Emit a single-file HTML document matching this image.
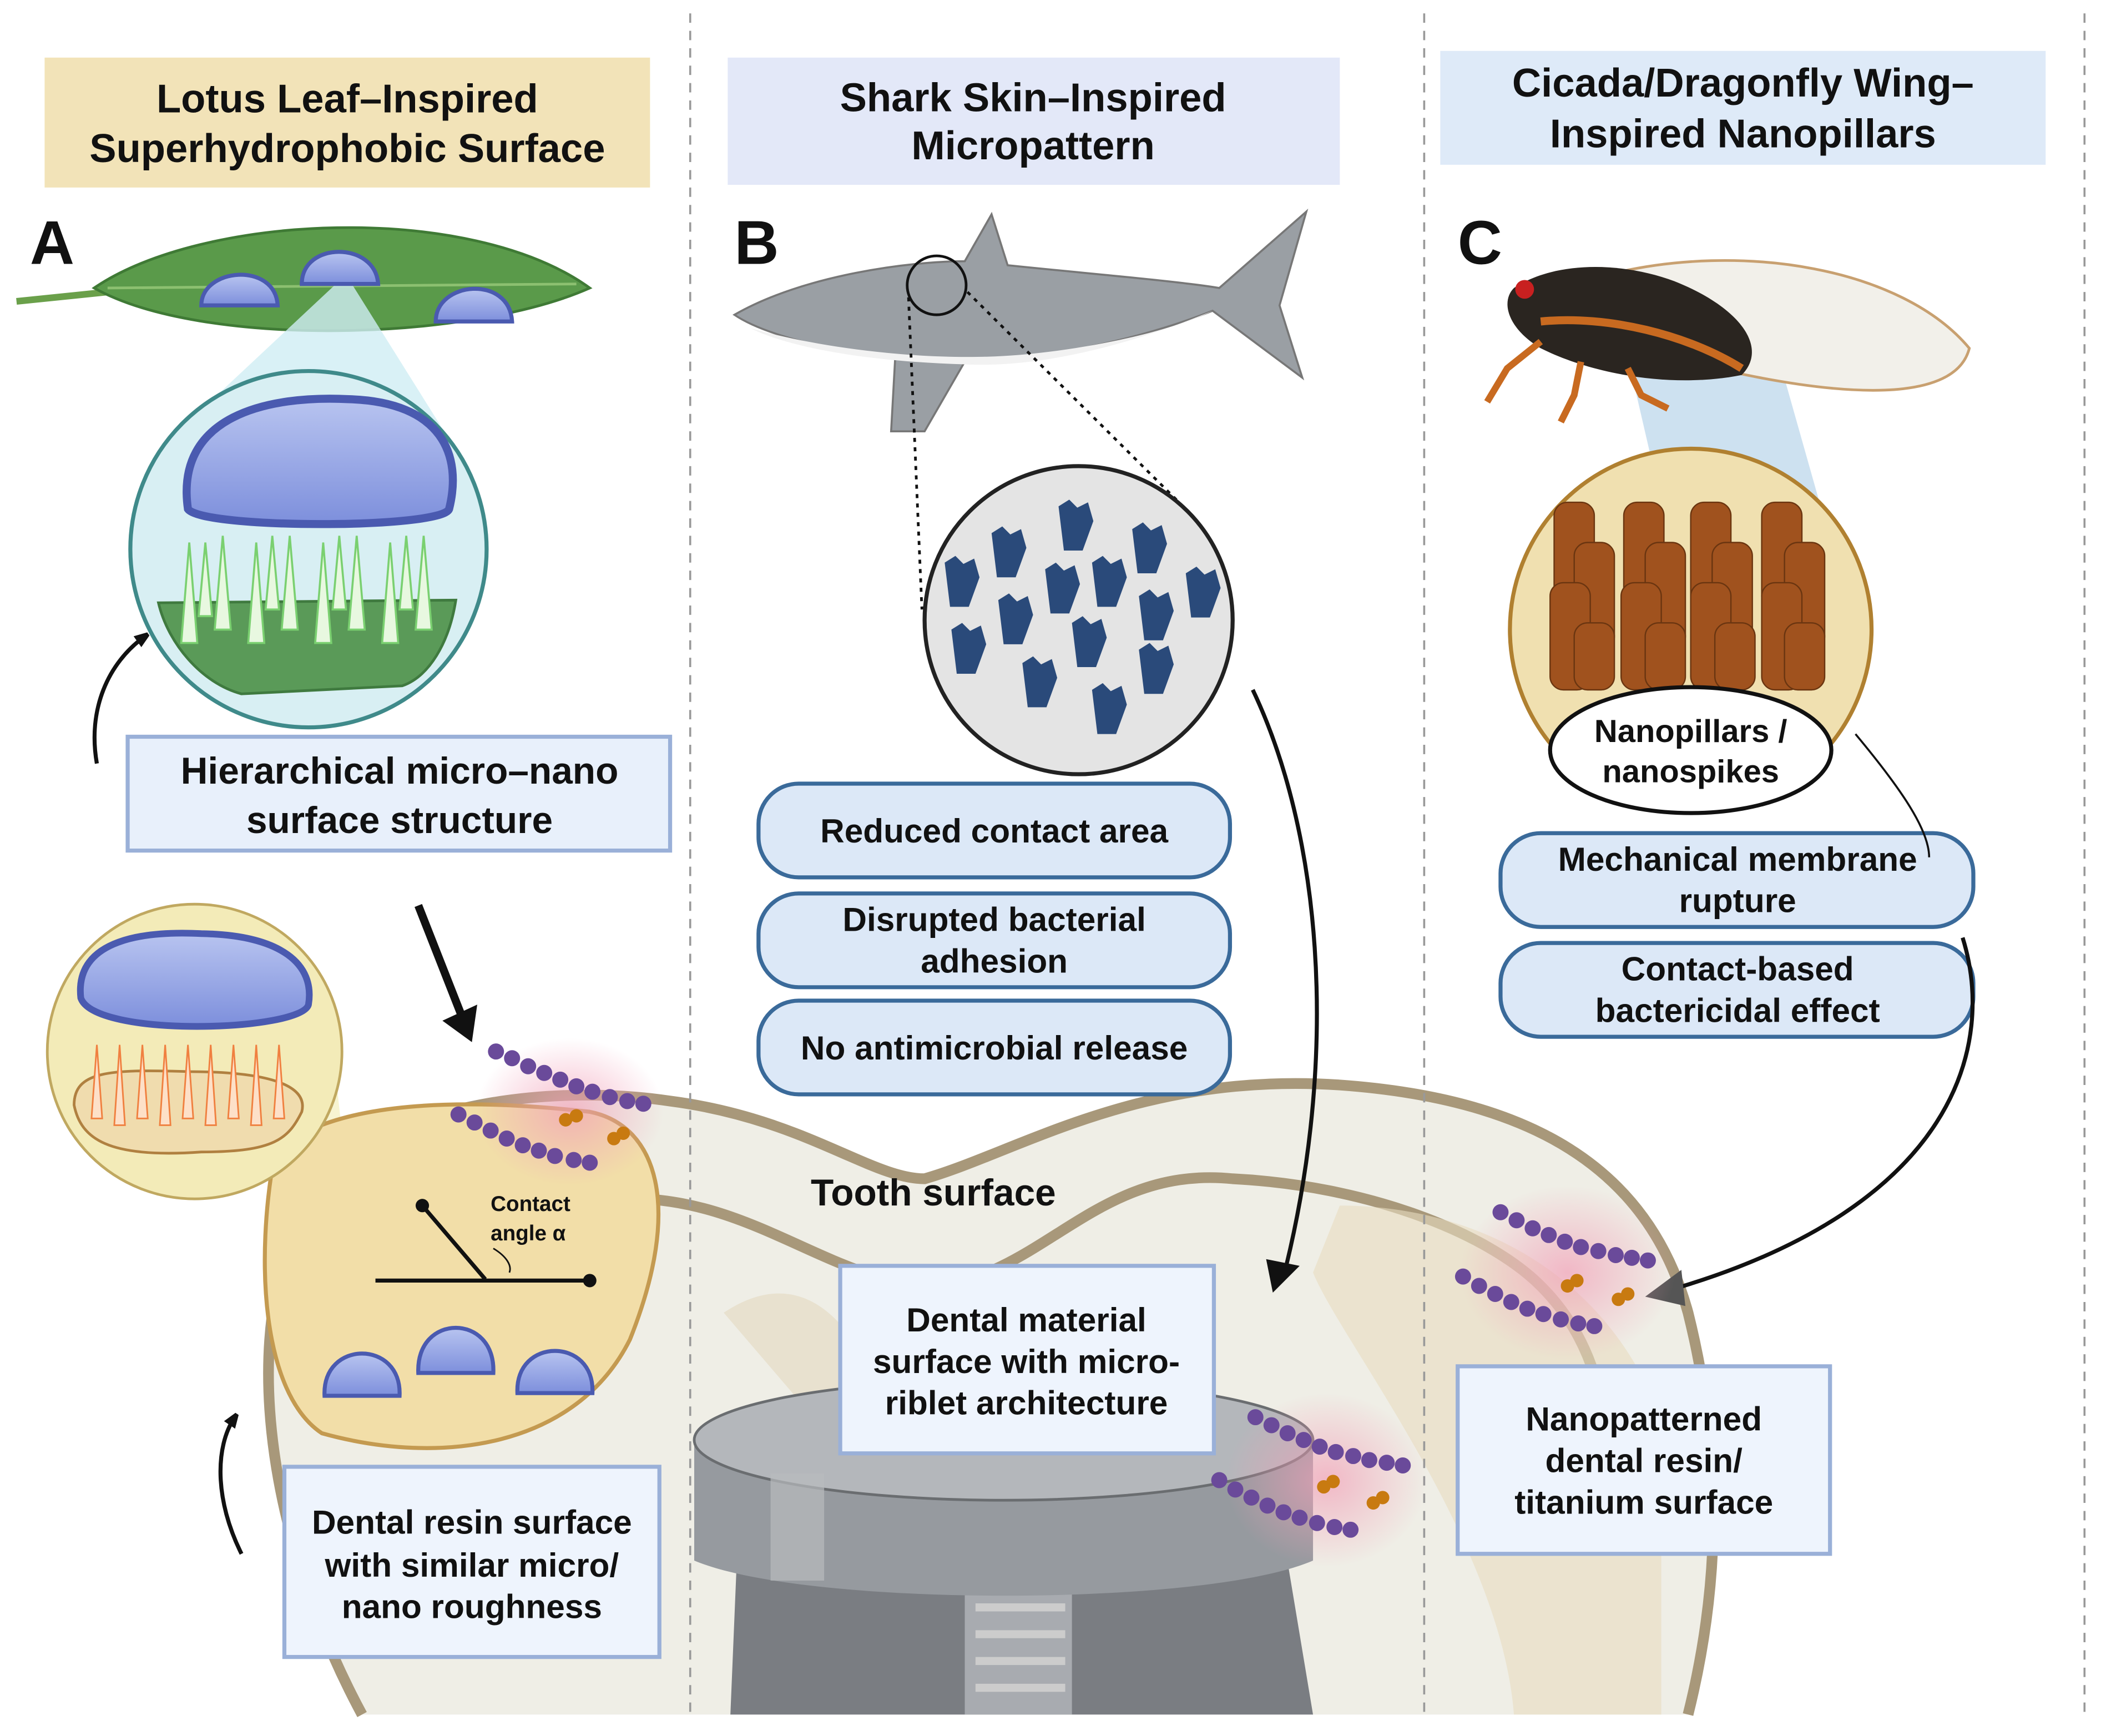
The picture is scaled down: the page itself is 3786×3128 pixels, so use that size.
<!DOCTYPE html>
<html><head><meta charset="utf-8"><style>
html,body{margin:0;padding:0;background:#fff;width:3786px;height:3128px;overflow:hidden}
svg{display:block}
text{font-family:"Liberation Sans",sans-serif;font-weight:bold;fill:#111}
</style></head><body>
<svg width="3786" height="3128" viewBox="0 0 1568 1296" xmlns="http://www.w3.org/2000/svg">
<defs>
<radialGradient id="pink"><stop offset="0" stop-color="#f2a0b8" stop-opacity=".7"/><stop offset="1" stop-color="#f2a0b8" stop-opacity="0"/></radialGradient>
<linearGradient id="drop" x1="0" y1="0" x2="0" y2="1"><stop offset="0" stop-color="#b8c4f0"/><stop offset="1" stop-color="#7d8fdc"/></linearGradient>
<marker id="ah" markerWidth="10" markerHeight="10" refX="7" refY="5" orient="auto" markerUnits="userSpaceOnUse"><path d="M0,0 L14,5 L0,10 Z" fill="#111"/></marker>
</defs>
<rect width="1568" height="1296" fill="#fff"/>
<!-- tooth -->
<path d="M270,1280 C200,1150 170,980 240,880 C300,820 420,810 500,822 C600,835 650,880 690,880 C760,860 850,800 1000,810 C1140,820 1230,870 1260,980 C1290,1100 1280,1200 1260,1280 Z" fill="#efeee6"/>
<path d="M270,1280 C200,1150 170,980 240,880 C300,820 420,810 500,822 C600,835 650,880 690,880 C760,860 850,800 1000,810 C1140,820 1230,870 1260,980 C1290,1100 1280,1200 1260,1280" fill="none" stroke="#a8987a" stroke-width="8"/>
<path d="M460,895 C560,890 620,960 700,960 C780,950 820,870 920,880 C1020,885 1110,920 1150,960 C1190,1000 1200,1050 1200,1100" fill="none" stroke="#a8987a" stroke-width="8"/>
<path d="M540,980 C600,940 640,990 660,1050 L600,1050 Z" fill="#e6dcc4" opacity=".7"/>
<path d="M1000,900 C1100,900 1200,950 1240,1060 L1240,1280 L1130,1280 C1120,1150 1000,1000 980,950 Z" fill="#e8dcc0" opacity=".6"/>
<!-- dashed lines -->
<g stroke="#999" stroke-width="1.5" stroke-dasharray="7,6"><line x1="515" y1="10" x2="515" y2="1280"/><line x1="1063" y1="10" x2="1063" y2="1280"/><line x1="1556" y1="10" x2="1556" y2="1280"/></g>
<!-- headers -->
<rect x="33" y="43" width="452" height="97" fill="#f2e3b8"/>
<text x="259" y="84" font-size="30" text-anchor="middle">Lotus Leaf–Inspired</text>
<text x="259" y="121" font-size="30" text-anchor="middle">Superhydrophobic Surface</text>
<rect x="543" y="43" width="457" height="95" fill="#e3e8f8"/>
<text x="771" y="83" font-size="30" text-anchor="middle">Shark Skin–Inspired</text>
<text x="771" y="119" font-size="30" text-anchor="middle">Micropattern</text>
<rect x="1075" y="38" width="452" height="85" fill="#deeaf8"/>
<text x="1301" y="72" font-size="30" text-anchor="middle">Cicada/Dragonfly Wing–</text>
<text x="1301" y="110" font-size="30" text-anchor="middle">Inspired Nanopillars</text>
<text x="22" y="197" font-size="46">A</text>
<text x="548" y="197" font-size="46">B</text>
<text x="1088" y="197" font-size="46">C</text>
<!-- leaf -->
<path d="M12,225 L80,218" stroke="#6aa04a" stroke-width="5"/>
<path d="M70,215 C150,160 350,150 440,215 C350,255 150,260 70,215 Z" fill="#5a9a4a" stroke="#3f7a35" stroke-width="2"/>
<path d="M80,215 L430,212" stroke="#8cc070" stroke-width="2"/>
<path d="M258,205 L135,320 L330,320 Z" fill="#cfeef4" opacity=".8"/>
<g fill="url(#drop)" stroke="#4a5ab0" stroke-width="3">
<path d="M150,228 C150,200 205,195 207,228 Z"/><path d="M225,212 C225,180 280,180 282,212 Z"/><path d="M325,240 C325,210 380,205 382,240 Z"/></g>
<circle cx="230" cy="410" r="133" fill="#d8eff3" stroke="#3f8a8a" stroke-width="3"/>
<path d="M140,380 C130,310 200,295 260,298 C330,300 345,340 335,380 C330,395 150,395 140,380 Z" fill="url(#drop)" stroke="#4a5ab0" stroke-width="6"/>
<path d="M118,450 L340,448 C335,480 320,505 300,512 L180,518 C150,510 125,480 118,450 Z" fill="#5a9a58" stroke="#3f7a3f" stroke-width="2"/>
<g fill="#e8f8e0" stroke="#7ad070" stroke-width="1.5">
<path d="M135,480 l6,-75 l6,75z"/><path d="M160,470 l6,-70 l6,70z"/><path d="M185,480 l6,-75 l6,75z"/><path d="M210,470 l6,-70 l6,70z"/><path d="M235,480 l6,-75 l6,75z"/><path d="M260,470 l6,-70 l6,70z"/><path d="M285,480 l6,-75 l6,75z"/><path d="M310,470 l6,-70 l6,70z"/><path d="M148,460 l5,-55 l5,55z"/><path d="M198,455 l5,-55 l5,55z"/><path d="M248,455 l5,-55 l5,55z"/><path d="M298,455 l5,-55 l5,55z"/></g>
<path d="M72,570 C65,530 80,495 108,475" fill="none" stroke="#111" stroke-width="3" marker-end="url(#ah)"/>
<rect x="95" y="550" width="405" height="85" fill="#e8f0fb" stroke="#9ab0d8" stroke-width="3"/>
<text x="298" y="585" font-size="28" text-anchor="middle">Hierarchical micro–nano</text>
<text x="298" y="622" font-size="28" text-anchor="middle">surface structure</text>
<path d="M312,676 L345,760" stroke="#111" stroke-width="6"/><path d="M330,762 L352,778 L356,750 Z" fill="#111"/>
<!-- left zoom -->
<path d="M200,860 L270,980 L250,800 Z" fill="#f6f3cc" opacity=".9"/>
<path d="M205,860 C190,940 195,1040 240,1070 C330,1095 430,1080 470,1000 C510,900 490,840 440,830 C350,820 250,820 205,860 Z" fill="#f2dea8" stroke="#c49a50" stroke-width="3"/>
<circle cx="145" cy="785" r="110" fill="#f3ebb8" stroke="#c0a860" stroke-width="2"/>
<path d="M60,745 C55,700 110,695 150,697 C210,698 235,720 230,750 C225,770 70,775 60,745 Z" fill="url(#drop)" stroke="#4a5ab0" stroke-width="5"/>
<path d="M55,825 C55,800 80,798 140,800 C200,800 230,810 225,830 C215,850 205,860 150,860 C80,865 60,850 55,825 Z" fill="#f0dcae" stroke="#b08040" stroke-width="2"/>
<g fill="#fde0c8" stroke="#f08040" stroke-width="1.2">
<path d="M68,835 l4,-55 l4,55z"/><path d="M85,840 l4,-60 l4,60z"/><path d="M102,835 l4,-55 l4,55z"/><path d="M119,840 l4,-60 l4,60z"/><path d="M136,835 l4,-55 l4,55z"/><path d="M153,840 l4,-60 l4,60z"/><path d="M170,835 l4,-55 l4,55z"/><path d="M187,840 l4,-60 l4,60z"/><path d="M204,835 l4,-55 l4,55z"/></g>
<line x1="280" y1="956" x2="440" y2="956" stroke="#111" stroke-width="3"/><circle cx="440" cy="956" r="5" fill="#111"/>
<line x1="315" y1="900" x2="362" y2="955" stroke="#111" stroke-width="3"/><circle cx="315" cy="900" r="5" fill="#111"/>
<text x="366" y="904" font-size="16" font-weight="normal">Contact</text>
<text x="366" y="926" font-size="16" font-weight="normal">angle α</text>
<path d="M368,932 C378,938 382,945 380,950" fill="none" stroke="#111" stroke-width="1.2"/>
<g fill="url(#drop)" stroke="#4a5ab0" stroke-width="3">
<path d="M242,1042 C240,1000 300,1000 298,1042 Z"/><path d="M312,1025 C310,980 370,980 368,1025 Z"/><path d="M386,1040 C384,998 444,998 442,1040 Z"/></g>
<path d="M180,1160 C160,1120 160,1080 175,1058" fill="none" stroke="#111" stroke-width="3" marker-end="url(#ah)"/>
<rect x="212" y="1095" width="280" height="142" fill="#eef4fd" stroke="#9ab0d8" stroke-width="3"/>
<text x="352" y="1145" font-size="25" text-anchor="middle">Dental resin surface</text>
<text x="352" y="1177" font-size="25" text-anchor="middle">with similar micro/</text>
<text x="352" y="1208" font-size="25" text-anchor="middle">nano roughness</text>
<!-- bacteria A -->
<ellipse cx="425" cy="830" rx="70" ry="55" fill="url(#pink)"/>
<g fill="#6a4a9a"><circle cx="370" cy="785" r="6"/><circle cx="382" cy="790" r="6"/><circle cx="394" cy="796" r="6"/><circle cx="406" cy="801" r="6"/><circle cx="418" cy="806" r="6"/><circle cx="430" cy="811" r="6"/><circle cx="442" cy="815" r="6"/><circle cx="455" cy="819" r="6"/><circle cx="468" cy="822" r="6"/><circle cx="480" cy="824" r="6"/>
<circle cx="342" cy="832" r="6"/><circle cx="354" cy="838" r="6"/><circle cx="366" cy="844" r="6"/><circle cx="378" cy="850" r="6"/><circle cx="390" cy="855" r="6"/><circle cx="402" cy="859" r="6"/><circle cx="414" cy="863" r="6"/><circle cx="428" cy="866" r="6"/><circle cx="440" cy="868" r="6"/></g>
<g fill="#c87a10"><circle cx="422" cy="836" r="5"/><circle cx="430" cy="833" r="5"/><circle cx="458" cy="850" r="5"/><circle cx="465" cy="846" r="5"/></g>
<!-- shark -->
<path d="M548,235 C600,205 680,195 720,195 L740,160 L752,198 C820,205 880,210 910,215 L975,158 L955,228 L972,282 L905,232 C860,250 790,268 720,270 L690,322 L665,322 L668,268 C620,262 570,250 548,235 Z" fill="#9a9fa4" stroke="#777" stroke-width="1.5"/>
<path d="M560,245 C620,262 700,270 760,265 C820,260 880,245 905,232 C850,255 780,275 720,272 C650,270 590,260 560,245 Z" fill="#f2f2f2"/>
<circle cx="699" cy="213" r="22" fill="none" stroke="#111" stroke-width="2"/>
<path d="M678,222 L688,455 M722,218 L890,385" stroke="#111" stroke-width="2" stroke-dasharray="3,4"/>
<circle cx="805" cy="463" r="115" fill="#e4e4e4" stroke="#222" stroke-width="3"/>
<g fill="#2a4a7a">
<path d="M790,378 l8,-5 l6,6 l8,-4 l4,14 l-8,22 h-14 z"/><path d="M845,395 l8,-5 l6,6 l8,-4 l4,14 l-8,22 h-14 z"/><path d="M740,398 l8,-5 l6,6 l8,-4 l4,14 l-8,22 h-14 z"/><path d="M705,420 l8,-5 l6,6 l8,-4 l4,14 l-8,22 h-14 z"/><path d="M780,425 l8,-5 l6,6 l8,-4 l4,14 l-8,22 h-14 z"/><path d="M815,420 l8,-5 l6,6 l8,-4 l4,14 l-8,22 h-14 z"/><path d="M885,428 l8,-5 l6,6 l8,-4 l4,14 l-8,22 h-14 z"/><path d="M745,448 l8,-5 l6,6 l8,-4 l4,14 l-8,22 h-14 z"/><path d="M850,445 l8,-5 l6,6 l8,-4 l4,14 l-8,22 h-14 z"/><path d="M710,470 l8,-5 l6,6 l8,-4 l4,14 l-8,22 h-14 z"/><path d="M800,465 l8,-5 l6,6 l8,-4 l4,14 l-8,22 h-14 z"/><path d="M850,485 l8,-5 l6,6 l8,-4 l4,14 l-8,22 h-14 z"/><path d="M763,495 l8,-5 l6,6 l8,-4 l4,14 l-8,22 h-14 z"/><path d="M815,515 l8,-5 l6,6 l8,-4 l4,14 l-8,22 h-14 z"/></g>
<g fill="#dce8f7" stroke="#3a6a9a" stroke-width="3">
<rect x="566" y="585" width="352" height="70" rx="30"/><rect x="566" y="667" width="352" height="70" rx="30"/><rect x="566" y="747" width="352" height="70" rx="30"/>
<rect x="1120" y="622" width="353" height="70" rx="30"/><rect x="1120" y="704" width="353" height="70" rx="30"/></g>
<text x="742" y="629" font-size="25" text-anchor="middle">Reduced contact area</text>
<text x="742" y="695" font-size="25" text-anchor="middle">Disrupted bacterial</text>
<text x="742" y="726" font-size="25" text-anchor="middle">adhesion</text>
<text x="742" y="791" font-size="25" text-anchor="middle">No antimicrobial release</text>
<text x="1297" y="650" font-size="25" text-anchor="middle">Mechanical membrane</text>
<text x="1297" y="681" font-size="25" text-anchor="middle">rupture</text>
<text x="1297" y="732" font-size="25" text-anchor="middle">Contact-based</text>
<text x="1297" y="763" font-size="25" text-anchor="middle">bactericidal effect</text>
<text x="605" y="900" font-size="28">Tooth surface</text>
<!-- implant -->
<path d="M550,1160 L960,1160 L980,1280 L545,1280 Z" fill="#7a7d82"/>
<path d="M720,1165 L800,1165 L800,1280 L720,1280 Z" fill="#a8abb0"/>
<g stroke="#ccc" stroke-width="6"><line x1="728" y1="1200" x2="795" y2="1200"/><line x1="728" y1="1220" x2="795" y2="1220"/><line x1="728" y1="1240" x2="795" y2="1240"/><line x1="728" y1="1260" x2="795" y2="1260"/></g>
<path d="M518,1075 L518,1165 C600,1200 900,1200 980,1165 L980,1075 Z" fill="#969a9f"/>
<ellipse cx="749" cy="1075" rx="231" ry="45" fill="#b4b7bb" stroke="#6a6d70" stroke-width="2"/>
<rect x="575" y="1100" width="40" height="80" fill="#b8bbbe" opacity=".7"/>
<path d="M935,515 C985,620 1000,780 960,945" fill="none" stroke="#111" stroke-width="3"/>
<path d="M945,940 L950,965 L970,945 Z" fill="#111"/>
<rect x="627" y="945" width="279" height="140" fill="#eef4fd" stroke="#9ab0d8" stroke-width="3"/>
<text x="766" y="994" font-size="25" text-anchor="middle">Dental material</text>
<text x="766" y="1025" font-size="25" text-anchor="middle">surface with micro-</text>
<text x="766" y="1056" font-size="25" text-anchor="middle">riblet architecture</text>
<ellipse cx="990" cy="1105" rx="75" ry="65" fill="url(#pink)"/>
<g fill="#6a4a9a"><circle cx="937" cy="1058" r="6"/><circle cx="949" cy="1064" r="6"/><circle cx="961" cy="1070" r="6"/><circle cx="973" cy="1075" r="6"/><circle cx="985" cy="1080" r="6"/><circle cx="997" cy="1084" r="6"/><circle cx="1010" cy="1087" r="6"/><circle cx="1022" cy="1090" r="6"/><circle cx="1035" cy="1092" r="6"/><circle cx="1047" cy="1094" r="6"/>
<circle cx="910" cy="1105" r="6"/><circle cx="922" cy="1112" r="6"/><circle cx="934" cy="1118" r="6"/><circle cx="946" cy="1124" r="6"/><circle cx="958" cy="1129" r="6"/><circle cx="970" cy="1133" r="6"/><circle cx="983" cy="1137" r="6"/><circle cx="996" cy="1140" r="6"/><circle cx="1008" cy="1142" r="6"/></g>
<g fill="#c87a10"><circle cx="988" cy="1110" r="5"/><circle cx="995" cy="1106" r="5"/><circle cx="1025" cy="1122" r="5"/><circle cx="1032" cy="1118" r="5"/></g>
<!-- cicada -->
<path d="M1210,245 L1262,470 L1385,470 L1320,240 Z" fill="#b8d4ea" opacity=".7"/>
<path d="M1200,205 C1300,180 1420,200 1470,260 C1460,300 1380,300 1260,270 Z" fill="#f2f0ea" stroke="#c8a070" stroke-width="2"/>
<path d="M1130,215 C1160,195 1210,195 1250,210 C1300,230 1320,260 1300,280 C1250,290 1190,280 1150,260 C1125,245 1120,225 1130,215 Z" fill="#2a2520"/>
<path d="M1150,240 C1200,235 1260,250 1300,275" stroke="#c86a20" stroke-width="6" fill="none"/>
<g stroke="#c86a20" stroke-width="5" fill="none"><path d="M1150,255 L1125,275 L1110,300"/><path d="M1180,270 L1175,295 L1165,315"/><path d="M1215,275 L1225,295 L1245,305"/></g>
<circle cx="1138" cy="216" r="7" fill="#c82020"/>
<circle cx="1262" cy="470" r="135" fill="#f0e0b0" stroke="#b08030" stroke-width="3"/>
<g fill="#a0521e" stroke="#6a3510" stroke-width="1">
<rect x="1160" y="375" width="30" height="80" rx="10"/><rect x="1212" y="375" width="30" height="80" rx="10"/><rect x="1262" y="375" width="30" height="80" rx="10"/><rect x="1315" y="375" width="30" height="80" rx="10"/>
<rect x="1175" y="405" width="30" height="80" rx="10"/><rect x="1228" y="405" width="30" height="80" rx="10"/><rect x="1278" y="405" width="30" height="80" rx="10"/><rect x="1332" y="405" width="30" height="80" rx="10"/>
<rect x="1157" y="435" width="30" height="80" rx="10"/><rect x="1210" y="435" width="30" height="80" rx="10"/><rect x="1262" y="435" width="30" height="80" rx="10"/><rect x="1315" y="435" width="30" height="80" rx="10"/>
<rect x="1175" y="465" width="30" height="50" rx="10"/><rect x="1228" y="465" width="30" height="50" rx="10"/><rect x="1280" y="465" width="30" height="50" rx="10"/><rect x="1332" y="465" width="30" height="50" rx="10"/></g>
<ellipse cx="1262" cy="560" rx="105" ry="47" fill="#fff" stroke="#111" stroke-width="3"/>
<text x="1262" y="554" font-size="24" text-anchor="middle">Nanopillars /</text>
<text x="1262" y="584" font-size="24" text-anchor="middle">nanospikes</text>
<path d="M1385,548 C1420,590 1440,620 1440,640" fill="none" stroke="#111" stroke-width="1.5"/>
<path d="M1465,700 C1490,780 1460,900 1250,962" fill="none" stroke="#111" stroke-width="3"/>
<path d="M1228,968 L1255,948 L1258,975 Z" fill="#555"/>
<ellipse cx="1170" cy="950" rx="80" ry="65" fill="url(#pink)"/>
<g fill="#6a4a9a"><circle cx="1120" cy="905" r="6"/><circle cx="1132" cy="911" r="6"/><circle cx="1144" cy="917" r="6"/><circle cx="1156" cy="922" r="6"/><circle cx="1168" cy="927" r="6"/><circle cx="1180" cy="931" r="6"/><circle cx="1193" cy="934" r="6"/><circle cx="1206" cy="937" r="6"/><circle cx="1218" cy="939" r="6"/><circle cx="1230" cy="941" r="6"/>
<circle cx="1092" cy="953" r="6"/><circle cx="1104" cy="960" r="6"/><circle cx="1116" cy="966" r="6"/><circle cx="1128" cy="972" r="6"/><circle cx="1140" cy="977" r="6"/><circle cx="1152" cy="981" r="6"/><circle cx="1165" cy="985" r="6"/><circle cx="1178" cy="988" r="6"/><circle cx="1190" cy="990" r="6"/></g>
<g fill="#c87a10"><circle cx="1170" cy="960" r="5"/><circle cx="1177" cy="956" r="5"/><circle cx="1208" cy="970" r="5"/><circle cx="1215" cy="966" r="5"/></g>
<rect x="1088" y="1020" width="278" height="140" fill="#eef4fd" stroke="#9ab0d8" stroke-width="3"/>
<text x="1227" y="1068" font-size="25" text-anchor="middle">Nanopatterned</text>
<text x="1227" y="1099" font-size="25" text-anchor="middle">dental resin/</text>
<text x="1227" y="1130" font-size="25" text-anchor="middle">titanium surface</text>
</svg>
</body></html>
